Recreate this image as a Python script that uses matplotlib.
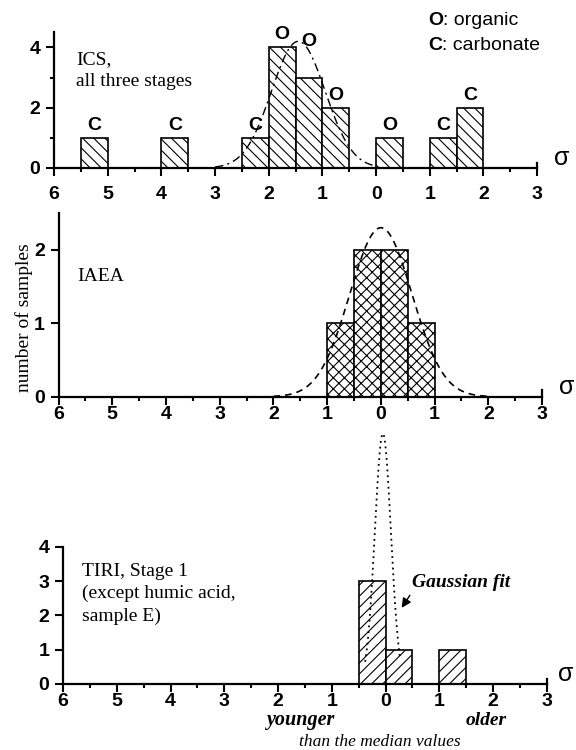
import numpy as np
import matplotlib.pyplot as plt

plt.rcParams['font.family'] = ['Liberation Sans', 'DejaVu Sans']
plt.rcParams['hatch.linewidth'] = 0.8
SERIF = ['Liberation Serif', 'DejaVu Serif']

# deviation in units of sigma, negative side = younger than the median
x_ticks = [-6, -5, -4, -3, -2, -1, 0, 1, 2, 3]
x_ticklabels = ['6', '5', '4', '3', '2', '1', '0', '1', '2', '3']
bin_width = 0.5

# ICS, all three stages (O = organic, C = carbonate)
ics_left = [-5.5, -4.0, -2.5, -2.0, -1.5, -1.0, 0.0, 1.0, 1.5]
ics_count = [1, 1, 1, 4, 3, 2, 1, 1, 2]
ics_type = ['C', 'C', 'C', 'O', 'O', 'O', 'O', 'C', 'C']
ics_mu, ics_sd, ics_amp = -1.45, 0.5, 4.2

# IAEA
iaea_left = [-1.0, -0.5, 0.0, 0.5]
iaea_count = [1, 2, 2, 1]
iaea_mu, iaea_sd, iaea_amp = 0.0, 0.58, 2.3

# TIRI, stage 1
tiri_left = [-0.5, 0.0, 1.0]
tiri_count = [3, 1, 1]
tiri_mu, tiri_sd, tiri_amp = -0.05, 0.15, 7.3


def gauss(x, mu, sd, amp):
    return amp * np.exp(-(x - mu) ** 2 / (2 * sd ** 2))


def style(ax, ymax, yticks, yminor=(), xpad=3, sig_dx=12):
    ax.set_xlim(-6, 3)
    ax.set_ylim(0, ymax)
    ax.spines['top'].set_visible(False)
    ax.spines['right'].set_bounds(0, 0.035 * ymax)
    for s in ['left', 'bottom', 'right']:
        ax.spines[s].set_linewidth(1.6)
    ax.set_xticks(x_ticks)
    ax.set_xticklabels(x_ticklabels)
    ax.set_xticks(np.arange(-5.5, 3, 1), minor=True)
    ax.set_yticks(yticks)
    ax.set_yticks(list(yminor), minor=True)
    ax.tick_params(which='major', direction='out', length=6, width=1.5,
                   labelsize=14)
    ax.tick_params(axis='x', which='major', pad=xpad)
    ax.tick_params(axis='y', which='major', pad=4)
    ax.tick_params(which='minor', direction='out', length=3, width=1.5)
    for lab in ax.get_xticklabels() + ax.get_yticklabels():
        lab.set_fontweight('bold')
    ax.annotate('σ', xy=(1, 0), xycoords='axes fraction', xytext=(sig_dx, 7),
                textcoords='offset points', ha='left', va='center',
                fontsize=18)


fig = plt.figure(figsize=(5.76, 7.5), dpi=100)
ax1 = fig.add_axes([0.094, 0.776, 0.8385, 0.181])
ax2 = fig.add_axes([0.1016, 0.471, 0.8395, 0.245])
ax3 = fig.add_axes([0.1094, 0.088, 0.840, 0.183])

# --- ICS ---
style(ax1, 4.5, [0, 2, 4], [1, 3], xpad=7)
ax1.bar(ics_left, ics_count, width=bin_width, align='edge', facecolor='white',
        edgecolor='black', linewidth=1.2, hatch='\\\\\\')
xs = np.linspace(-3.0, 0.0, 200)
ax1.plot(xs, gauss(xs, ics_mu, ics_sd, ics_amp), color='black', lw=1.0,
         ls=(0, (6, 3, 1.5, 3)), zorder=3)
for i, (l, c, t) in enumerate(zip(ics_left, ics_count, ics_type)):
    off = 20 if i == 4 else 3
    ax1.annotate(t, xy=(l + bin_width / 2, c), xytext=(0, off),
                 textcoords='offset points', ha='center', va='bottom',
                 fontsize=14, fontweight='bold')
ax1.text(0.0455, 0.862, 'ICS,\nall three stages', transform=ax1.transAxes,
         family=SERIF, fontsize=14, va='top', ha='left', linespacing=1.4)
t1 = ax1.text(0.774, 1.09, 'O', transform=ax1.transAxes, fontsize=14,
              fontweight='bold', va='center', ha='left')
ax1.annotate(': organic', xy=(1, 0.5), xycoords=t1, va='center', ha='left',
             fontsize=14)
t2 = ax1.text(0.774, 0.905, 'C', transform=ax1.transAxes, fontsize=14,
              fontweight='bold', va='center', ha='left')
ax1.annotate(': carbonate', xy=(1, 0.5), xycoords=t2, va='center', ha='left',
             fontsize=14)

# --- IAEA ---
style(ax2, 2.5, [0, 1, 2], xpad=1)
ax2.bar(iaea_left, iaea_count, width=bin_width, align='edge', facecolor='white',
        edgecolor='black', linewidth=1.2, hatch='xxx')
xs = np.linspace(-2.0, 2.0, 200)
ax2.plot(xs, gauss(xs, iaea_mu, iaea_sd, iaea_amp), color='black', lw=1.2,
         ls=(0, (4, 3)), zorder=3)
ax2.text(0.038, 0.70, 'IAEA', transform=ax2.transAxes, family=SERIF,
         fontsize=14, va='top', ha='left')
fig.text(0.042, 0.577, 'number of samples', rotation=90, family=SERIF,
         fontsize=14, va='center', ha='center')

# --- TIRI ---
style(ax3, 4, [0, 1, 2, 3, 4], xpad=0.5, sig_dx=8)
ax3.bar(tiri_left, tiri_count, width=bin_width, align='edge', facecolor='white',
        edgecolor='black', linewidth=1.2, hatch='///')
xs = np.linspace(-0.38, 0.27, 200)
ax3.plot(xs, gauss(xs, tiri_mu, tiri_sd, tiri_amp), color='black', lw=1.3,
         ls=(0, (1, 2.2)), zorder=3, clip_on=False)
ax3.text(0.039, 0.885, 'TIRI, Stage 1\n(except humic acid,\nsample E)',
         transform=ax3.transAxes, family=SERIF, fontsize=14, va='top',
         ha='left', linespacing=1.4)
ax3.annotate('Gaussian fit', xy=(0.30, 2.22), xytext=(0.5, 2.7),
             family=SERIF, style='italic', fontweight='bold', fontsize=14,
             ha='left', va='bottom',
             arrowprops=dict(arrowstyle='-|>', color='black', lw=1.0,
                             shrinkA=1, shrinkB=0, relpos=(0, 0)))
xt = ax3.get_xaxis_transform()
ax3.text(-1.58, -0.30, 'younger', transform=xt, family=SERIF,
         style='italic', fontweight='bold', fontsize=14.5, ha='center',
         va='baseline')
ax3.text(1.88, -0.30, 'older', transform=xt, family=SERIF, style='italic',
         fontweight='bold', fontsize=14, ha='center', va='baseline')
ax3.text(-0.11, -0.45, 'than the median values', transform=xt, family=SERIF,
         style='italic', fontsize=12.5, ha='center', va='baseline')

fig.savefig('out.png', dpi=100)
